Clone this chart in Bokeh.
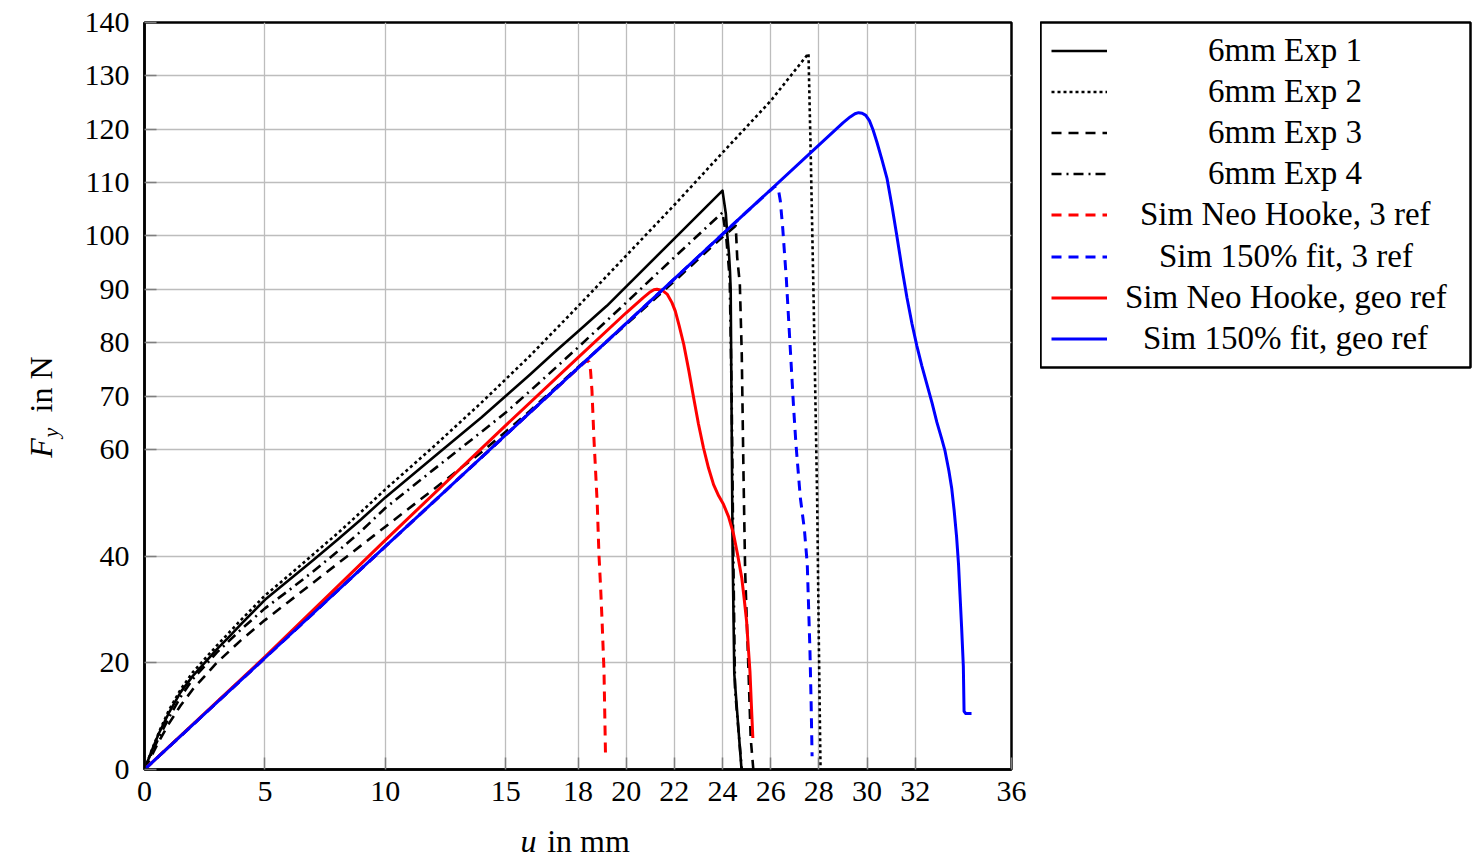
from bokeh.plotting import figure
from bokeh.models import Range1d, FixedTicker, Legend, LegendItem, Label
from bokeh.layouts import row, column
from bokeh.embed import file_html
from bokeh.resources import INLINE

# ---------------- data ----------------
x_ticks = [0, 5, 10, 15, 18, 20, 22, 24, 26, 28, 30, 32, 36]
y_ticks = [0, 20, 40, 60, 70, 80, 90, 100, 110, 120, 130, 140]

exp1_x = [0, 0.3, 0.6, 1, 1.5, 2, 2.6, 3, 3.5, 4, 5, 6, 7, 8, 9, 10, 12, 14, 16, 17, 18, 19,
          19.2, 20, 22, 24, 24.14, 24.2, 24.27, 24.31, 24.34, 24.42, 24.49, 24.79]
exp1_y = [0, 3.5, 6.8, 10.5, 14.5, 17.5, 20.5, 22.5, 24.8, 27.2, 31.8, 35.5, 39.2, 43, 46.9, 51, 58.5,
          66, 74, 78.1, 82.1, 86.1, 86.9, 90.5, 99.5, 108.5, 104.1, 100.1, 96.6, 93.5, 89.8, 40.7, 17.9, 0]

exp2_x = [0, 0.3, 0.6, 1, 1.5, 2, 2.6, 3, 3.5, 4, 5, 6, 7, 8, 9, 10, 12, 14, 16, 18, 20, 22, 24, 26,
          27.57, 27.66, 27.79, 27.93, 28.0, 28.07]
exp2_y = [0, 3.6, 7, 11, 15, 18.2, 21.2, 23.2, 25.6, 28, 32.6, 36.4, 40.3, 44.2, 48.3, 52.5, 60.5, 68.8,
          77.5, 86.8, 96.3, 105.8, 115.6, 125.3, 134.2, 116.1, 86.6, 50.8, 23.9, 0]

exp3_x = [0, 0.3, 0.6, 1, 1.5, 2, 2.6, 3, 4, 5, 6, 7, 8, 9, 10, 12, 14, 15, 16, 18, 20, 22, 24, 24.55,
          24.61, 24.72, 24.8, 24.87, 24.94, 25.08, 25.17, 25.28]
exp3_y = [0, 2.6, 5.3, 8.5, 12, 15, 18, 20, 24.2, 28, 31.5, 35, 38.5, 42, 45.5, 52.5, 59.5, 63.3, 67.2,
          75.4, 83.4, 91.5, 99.8, 101.9, 96, 91, 77.8, 55.9, 37.2, 18.4, 5.9, 0]

exp4_x = [0, 0.3, 0.6, 1, 1.5, 2, 2.6, 3, 4, 5, 6, 7, 8, 9, 10, 12, 14, 15, 16, 18, 20, 22, 24,
          24.15, 24.3, 24.38, 24.45, 24.52, 24.8]
exp4_y = [0, 3, 6, 9.6, 13.6, 16.9, 19.9, 21.9, 26.2, 30.2, 33.6, 37.1, 40.8, 44.7, 49, 56.2, 63.3,
          66.9, 70.9, 79.1, 87.5, 96, 104.4, 100, 92, 70, 40, 15, 0]

neo3_x = [0, 5, 10, 15, 18, 18.2, 18.35, 18.46, 18.52, 18.58, 18.66, 18.8, 18.87, 18.94, 19.0,
          19.08, 19.14]
neo3_y = [0, 20.9, 41.8, 62.7, 75.2, 76.0, 76.6, 76.4, 74.8, 71.0, 62.2, 49.7, 40.3, 34, 27.8,
          18.4, 3.2]

fit3_x = [0, 5, 10, 15, 20, 25, 26.0, 26.15, 26.25, 26.33, 26.4, 26.5, 26.65, 26.8, 26.95, 27.05,
          27.23, 27.4, 27.52, 27.63, 27.68, 27.72]
fit3_y = [0, 20.9, 41.8, 62.7, 83.6, 104.5, 108.6, 109.2, 109.3, 108.5, 106.6, 101.5, 92, 80, 68,
          61, 51, 45, 38.5, 22.5, 12.5, 2.5]

neogeo_x = [0, 5, 10, 15, 18, 20, 20.7, 21.0, 21.15, 21.28, 21.5, 21.7, 21.9, 22.04, 22.2, 22.39,
            22.6, 22.8, 23.0, 23.21, 23.42, 23.63, 23.84, 24.04, 24.25, 24.46, 24.63, 24.8, 24.9,
            25.0, 25.07, 25.14, 25.2, 25.26]
neogeo_y = [0, 21.1, 43.0, 64.5, 77.2, 85.6, 88.4, 89.5, 89.9, 90.0, 89.8, 89.1, 87.5, 85.9, 83.2,
            79.7, 74.8, 69.7, 64.8, 60.3, 56.5, 53.4, 51.3, 49.7, 47.4, 44.1, 40.2, 35.9, 32.0,
            27.8, 23.0, 18.4, 12.0, 5.9]

fitgeo_x = [0, 5, 10, 15, 20, 25, 28, 29, 29.3, 29.5, 29.65, 29.8, 29.95, 30.1, 30.25, 30.41, 30.62,
            30.83, 31.04, 31.24, 31.45, 31.66, 31.87, 32.07, 32.28, 32.48, 32.7, 32.9, 33.1, 33.24,
            33.4, 33.52, 33.62, 33.72, 33.8, 33.86, 33.93, 34.0, 34.03, 34.1, 34.34]
fitgeo_y = [0, 20.9, 41.8, 62.7, 83.6, 104.5, 117.0, 121.2, 122.3, 122.9, 123.1, 123.0, 122.6, 121.6,
            119.9, 117.6, 114.3, 110.8, 105.5, 100, 94, 88.4, 83.5, 79.4, 75.6, 72.3, 68.7, 65.1,
            62.0, 59.7, 56, 52.6, 48.5, 43.6, 38.5, 32.9, 26.5, 19.4, 10.9, 10.5, 10.5]

labels = ["6mm Exp 1", "6mm Exp 2", "6mm Exp 3", "6mm Exp 4",
          "Sim Neo Hooke, 3 ref", "Sim 150% fit, 3 ref",
          "Sim Neo Hooke, geo ref", "Sim 150% fit, geo ref"]

FONT = "Liberation Serif"
BLK_W = 2.6
COL_W = 3.0
styles = [
    dict(line_color="black", line_width=BLK_W, line_dash="solid"),
    dict(line_color="black", line_width=BLK_W, line_dash="3 3"),
    dict(line_color="black", line_width=BLK_W, line_dash="10 7"),
    dict(line_color="black", line_width=BLK_W, line_dash="10 5 2 5"),
    dict(line_color="red", line_width=COL_W, line_dash="10 7"),
    dict(line_color="blue", line_width=COL_W, line_dash="10 7"),
    dict(line_color="red", line_width=COL_W, line_dash="solid"),
    dict(line_color="blue", line_width=COL_W, line_dash="solid"),
]
series = [(exp1_x, exp1_y), (exp2_x, exp2_y), (exp3_x, exp3_y), (exp4_x, exp4_y),
          (neo3_x, neo3_y), (fit3_x, fit3_y), (neogeo_x, neogeo_y), (fitgeo_x, fitgeo_y)]

# ---------------- layout geometry (page pixels) ----------------
PAGE_H = 863
LEFT_W = 70                 # y-title strip width
F_LEFT, F_TOP = 144, 22     # plot frame position on the page
F_W, F_H = 867, 747
P_BOTTOM = 52               # bottom border of main figure (tick labels)
P_RIGHT = 29
MAIN_H = F_TOP + F_H + P_BOTTOM
XLAB_H = PAGE_H - MAIN_H
LEG_LEFT = LEFT_W + (F_LEFT - LEFT_W) + F_W + P_RIGHT   # 1040
LEG_W, LEG_H = 430, 345

# Times/Liberation Serif advance widths (per 1000 em) for centring legend texts
CHAR_W = {' ': 250, '%': 833, ',': 250, 'E': 611, 'H': 722, 'N': 722, 'S': 556, 'e': 444,
          'f': 333, 'g': 500, 'i': 278, 'k': 500, 'm': 778, 'o': 500, 'p': 500, 'r': 333,
          't': 278, 'x': 500}
LEG_FONT_PX = 33


def text_width(s, px):
    return sum(CHAR_W.get(c, 500) for c in s) * px / 1000.0


def strip(frame_w, frame_h, xr, yr, **borders):
    f = figure(frame_width=frame_w, frame_height=frame_h, x_range=xr, y_range=yr,
               output_backend="svg", toolbar_location=None, x_axis_location=None,
               y_axis_location=None, **borders)
    f.outline_line_color = None
    f.xgrid.visible = False
    f.ygrid.visible = False
    return f


# ---------------- main figure ----------------
p = figure(frame_width=F_W, frame_height=F_H,
           x_range=Range1d(0, 36), y_range=Range1d(0, 140),
           output_backend="svg", toolbar_location=None,
           min_border_left=F_LEFT - LEFT_W, min_border_top=F_TOP, min_border_right=P_RIGHT,
           min_border_bottom=P_BOTTOM)
p.outline_line_color = "black"
p.outline_line_width = 2.5

for ax, ticks in ((p.xaxis, x_ticks), (p.yaxis, y_ticks)):
    ax.ticker = FixedTicker(ticks=ticks)
    ax.axis_label = None
    ax.axis_line_color = "black"
    ax.axis_line_width = 2.5
    ax.major_tick_in = 12
    ax.major_tick_out = 0
    ax.major_tick_line_color = "#7f7f7f"
    ax.major_tick_line_width = 1.5
    ax.minor_tick_line_color = None
    ax.major_label_text_font = FONT
    ax.major_label_text_font_size = "30px"
    ax.major_label_text_color = "black"
p.xaxis.major_label_standoff = 12
p.yaxis.major_label_standoff = 15

p.xgrid.ticker = FixedTicker(ticks=x_ticks)
p.ygrid.ticker = FixedTicker(ticks=y_ticks)
for g in (p.xgrid, p.ygrid):
    g.grid_line_color = "#bdbdbd"
    g.grid_line_width = 1.3

for (xs, ys), st in zip(series, styles):
    p.line(xs, ys, line_join="round", **st)

mid = dict(text_font=FONT, text_color="black", text_baseline="middle", text_align="center")
ang = 1.5707963267948966

# ---------------- y-axis title strip: data = (page x, -page y) ----------------
ylab = strip(LEFT_W, F_H, Range1d(0, LEFT_W), Range1d(-(F_TOP + F_H), -F_TOP),
             min_border_left=0, min_border_right=0, min_border_top=F_TOP,
             min_border_bottom=P_BOTTOM)
ylab.add_layout(Label(x=40.5, y=-447.5, text="F", angle=ang, text_font_style="italic",
                      text_font_size="32px", **mid))
ylab.add_layout(Label(x=49.5, y=-432, text="y", angle=ang, text_font_style="italic",
                      text_font_size="22px", **mid))
ylab.add_layout(Label(x=40.5, y=-384, text="in N", angle=ang, text_font_size="32px", **mid))

# ---------------- x-axis title strip: data = (page x, -page y) ----------------
xlab = strip(F_W, XLAB_H, Range1d(F_LEFT, F_LEFT + F_W), Range1d(-PAGE_H, -MAIN_H),
             min_border_left=F_LEFT - LEFT_W, min_border_right=P_RIGHT,
             min_border_top=0, min_border_bottom=0)
xlab.add_layout(Label(x=528, y=-840.5, text="u", text_font_style="italic",
                      text_font_size="32px", **mid))
xlab.add_layout(Label(x=588, y=-840.5, text="in mm", text_font_size="32px", **mid))

# ---------------- legend figure: its frame is the legend box ----------------
leg = strip(LEG_W, LEG_H, Range1d(-200, -100), Range1d(-200, -100),
            min_border_left=0, min_border_right=2, min_border_top=F_TOP,
            min_border_bottom=PAGE_H - F_TOP - LEG_H)
leg.outline_line_color = "black"
leg.outline_line_width = 2.5
proxies = [leg.line(xs, ys, **st) for (xs, ys), st in zip(series, styles)]

GLYPH_X = 1051              # page x where legend sample lines start
GLYPH_W = 56
TEXT_CX = 1285.5            # page x of the centred legend texts
ROW0, ROW_DY = 50.0, 41.2   # page y of first row centre, row pitch
for i, (lab, r) in enumerate(zip(labels, proxies)):
    cy = ROW0 + ROW_DY * i
    standoff = int(round(TEXT_CX - (GLYPH_X + GLYPH_W) - text_width(lab, LEG_FONT_PX) / 2))
    lg = Legend(items=[LegendItem(label=lab, renderers=[r])],
                location=(GLYPH_X - LEG_LEFT, (F_TOP + LEG_H) - (cy - 19.5) - 39))
    lg.label_text_font = FONT
    lg.label_text_font_size = f"{LEG_FONT_PX}px"
    lg.label_text_color = "black"
    lg.glyph_width = GLYPH_W
    lg.glyph_height = 39
    lg.label_height = 39
    lg.label_width = 20
    lg.label_standoff = standoff
    lg.spacing = 0
    lg.padding = 0
    lg.margin = 0
    lg.border_line_color = None
    lg.background_fill_alpha = 0.0
    leg.add_layout(lg, "center")

layout = row(ylab, column(p, xlab), column(leg))

open("out.html", "w").write(file_html(layout, INLINE))
